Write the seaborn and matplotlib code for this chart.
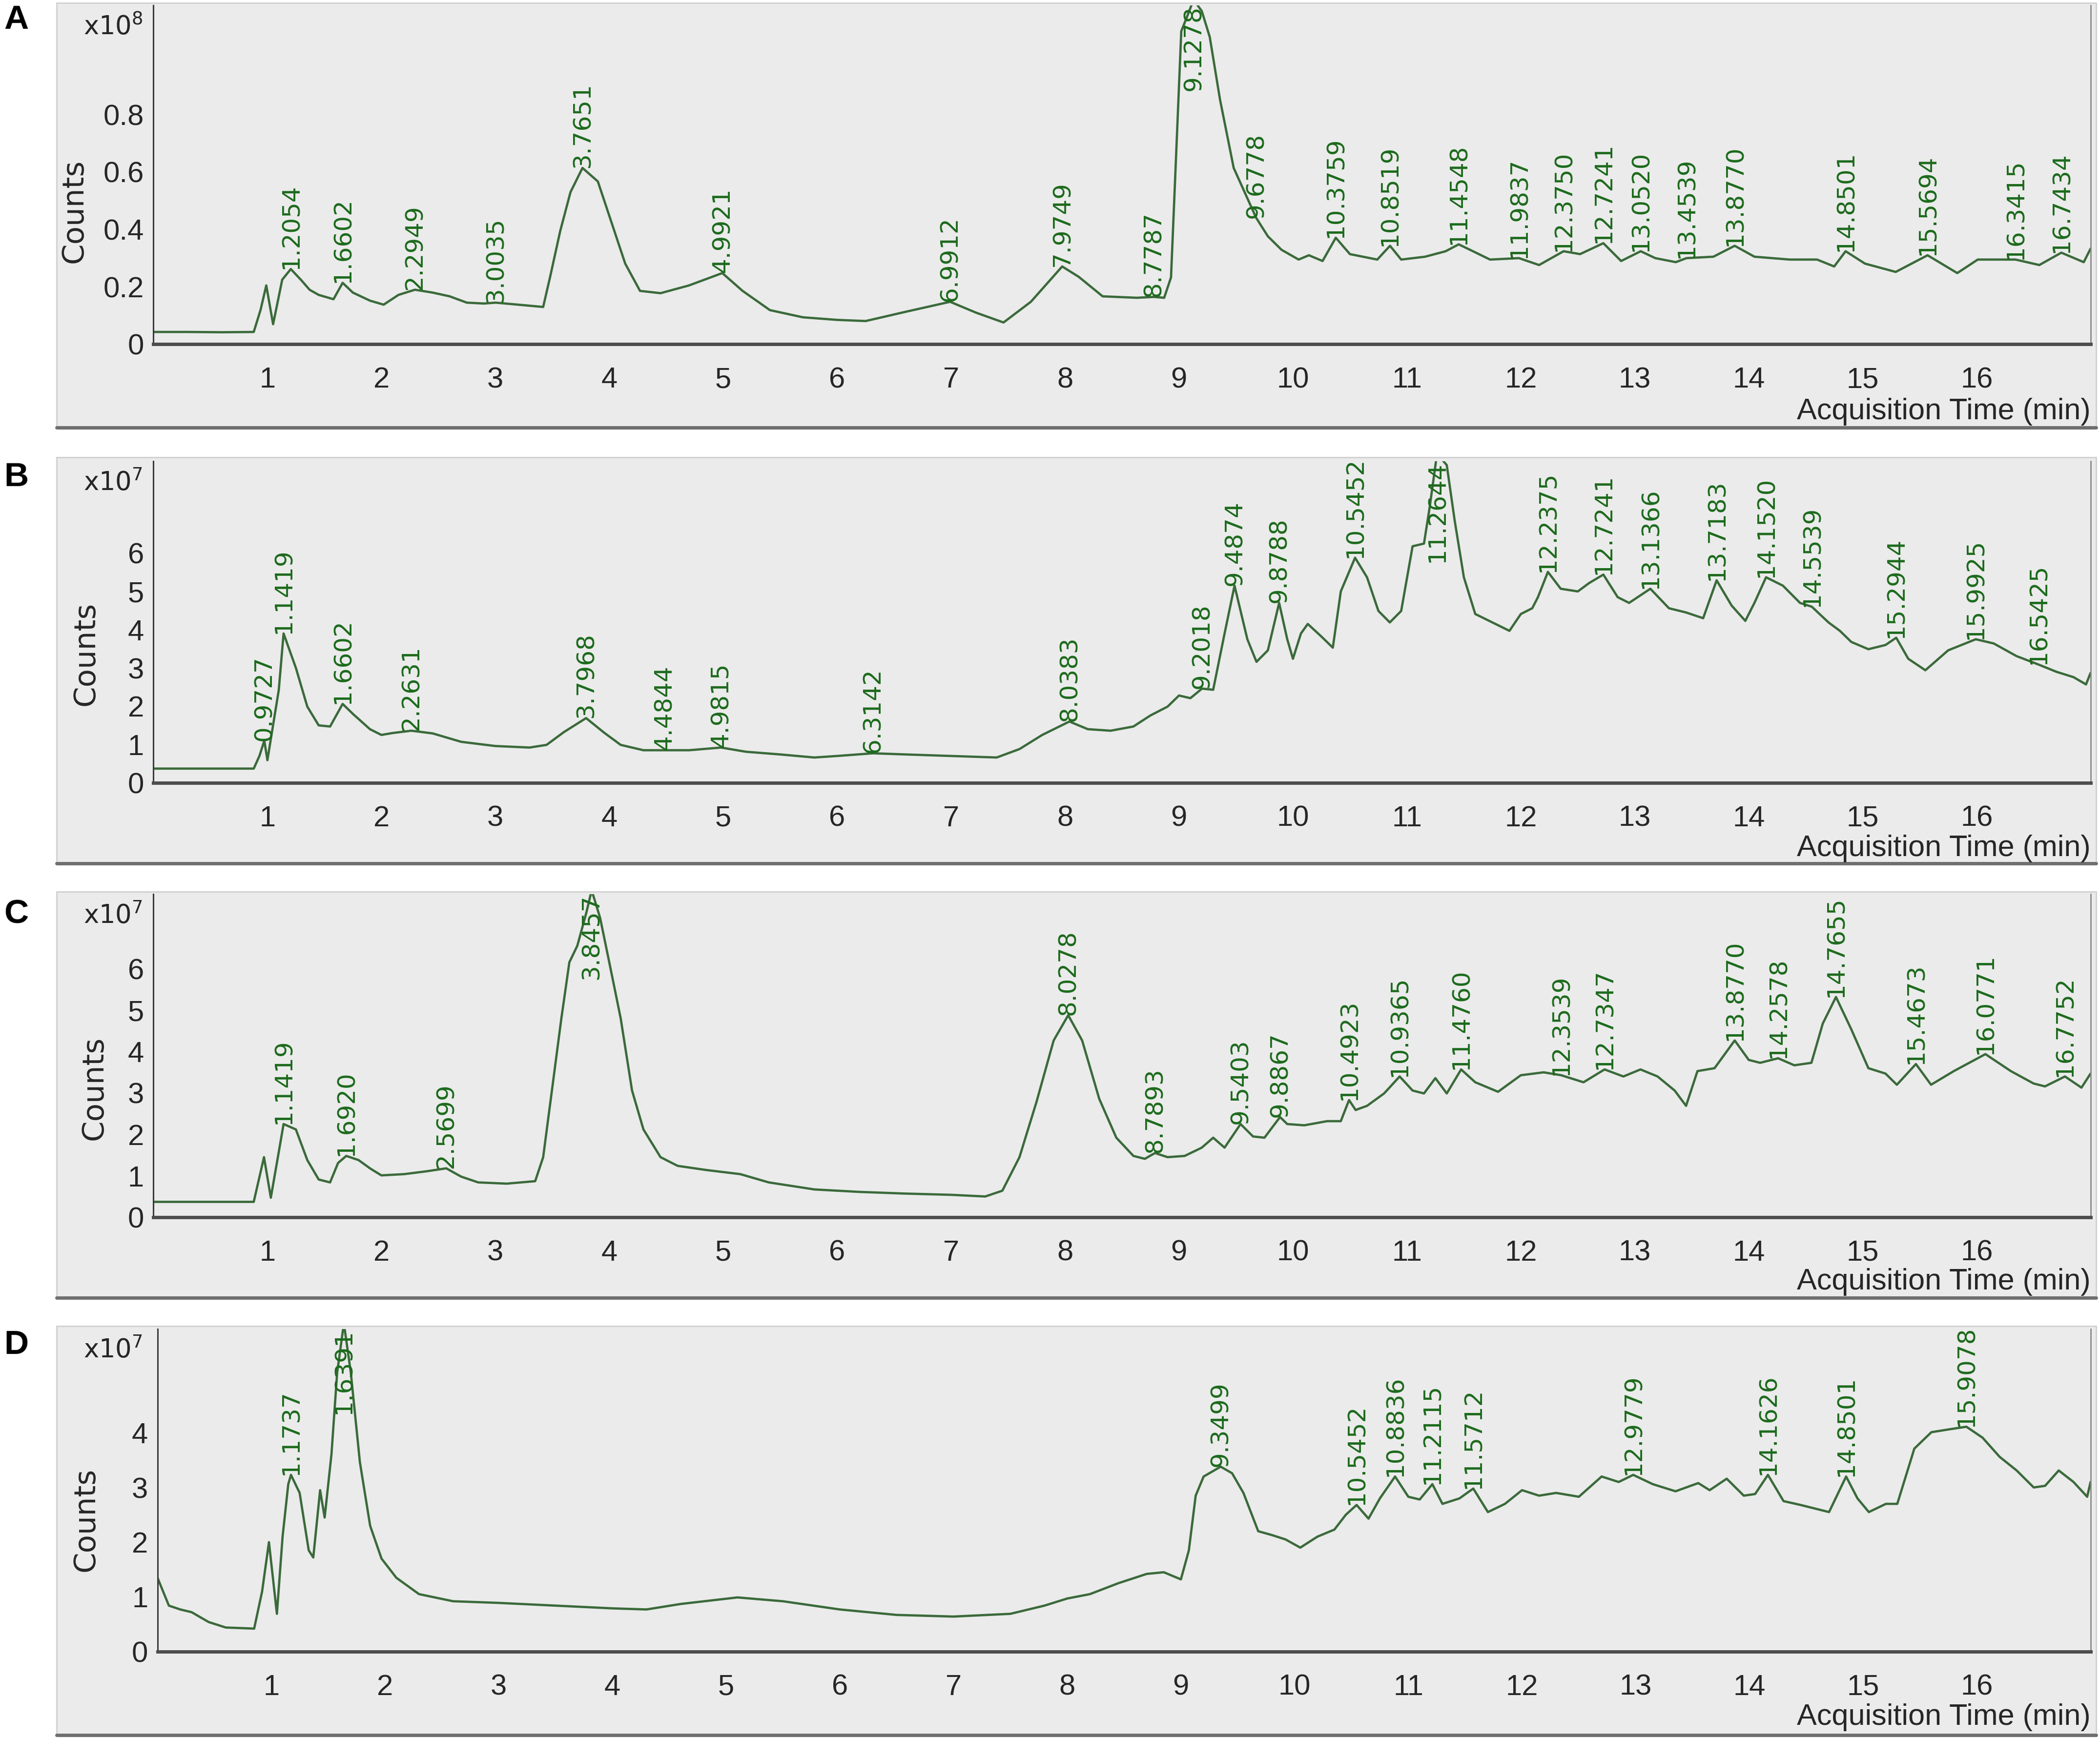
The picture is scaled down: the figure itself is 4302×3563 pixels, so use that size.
import numpy as np
import matplotlib
matplotlib.use('Agg')
import matplotlib.pyplot as plt
import seaborn as sns
from matplotlib.patches import Rectangle
from matplotlib.lines import Line2D

# Traces: (acquisition time in min, counts in x10^n)
a_trace = [(0.0, 0.043), (0.3, 0.043), (0.6, 0.042), (0.88, 0.043), (0.94, 0.12), (0.99, 0.205),
           (1.05, 0.07), (1.13, 0.225), (1.2054, 0.262), (1.3, 0.222), (1.37, 0.19), (1.45, 0.172),
           (1.58, 0.157), (1.6602, 0.214), (1.75, 0.18), (1.9, 0.152), (2.02, 0.138), (2.15, 0.172),
           (2.2949, 0.19), (2.45, 0.18), (2.6, 0.167), (2.75, 0.145), (2.9, 0.142), (3.0035, 0.145),
           (3.2, 0.138), (3.42, 0.13), (3.48, 0.233), (3.57, 0.395), (3.66, 0.53), (3.7651, 0.614),
           (3.9, 0.567), (4.02, 0.424), (4.14, 0.281), (4.27, 0.186), (4.45, 0.178), (4.7, 0.205),
           (4.9921, 0.248), (5.17, 0.186), (5.41, 0.119), (5.7, 0.094), (6.0, 0.085), (6.25, 0.081),
           (6.61, 0.114), (6.9912, 0.148), (7.22, 0.11), (7.46, 0.076), (7.7, 0.148), (7.9749, 0.271),
           (8.12, 0.235), (8.33, 0.167), (8.63, 0.162), (8.7787, 0.165), (8.87, 0.162), (8.93, 0.233),
           (9.02, 1.09), (9.08, 1.15), (9.1278, 1.2), (9.2, 1.16), (9.27, 1.07), (9.36, 0.852),
           (9.48, 0.614), (9.6778, 0.44), (9.78, 0.376), (9.9, 0.329), (10.05, 0.295), (10.14, 0.31),
           (10.26, 0.29), (10.3759, 0.371), (10.5, 0.314), (10.74, 0.295), (10.8519, 0.343),
           (10.95, 0.295), (11.16, 0.305), (11.34, 0.324), (11.4548, 0.348), (11.58, 0.324),
           (11.73, 0.295), (11.9837, 0.3), (12.16, 0.276), (12.375, 0.324), (12.52, 0.314),
           (12.7241, 0.352), (12.88, 0.29), (13.052, 0.324), (13.18, 0.3), (13.36, 0.286),
           (13.4539, 0.3), (13.69, 0.305), (13.877, 0.343), (14.05, 0.305), (14.36, 0.295),
           (14.6, 0.295), (14.75, 0.271), (14.8501, 0.324), (15.02, 0.281), (15.29, 0.252),
           (15.5694, 0.31), (15.83, 0.248), (16.01, 0.295), (16.3415, 0.295), (16.55, 0.276),
           (16.7434, 0.319), (16.94, 0.286), (17.0, 0.333)]
a_peaks = [1.2054, 1.6602, 2.2949, 3.0035, 3.7651, 4.9921, 6.9912, 7.9749, 8.7787, 9.6778,
           10.3759, 10.8519, 11.4548, 11.9837, 12.3750, 12.7241, 13.0520, 13.4539, 13.8770,
           14.8501, 15.5694, 16.3415, 16.7434]
a_top_peak = 9.1278

b_trace = [(0.0, 0.37), (0.4, 0.37), (0.88, 0.37), (0.93, 0.7), (0.9727, 1.1), (1.0, 0.59),
           (1.1, 2.43), (1.1419, 3.9), (1.25, 3.0), (1.35, 1.99), (1.45, 1.5), (1.55, 1.47),
           (1.6602, 2.06), (1.75, 1.8), (1.9, 1.4), (2.0, 1.25), (2.1, 1.3), (2.2631, 1.36),
           (2.45, 1.29), (2.7, 1.07), (3.0, 0.96), (3.3, 0.92), (3.45, 0.99), (3.6, 1.32),
           (3.7968, 1.69), (3.95, 1.32), (4.1, 0.99), (4.3, 0.85), (4.4844, 0.85), (4.7, 0.85),
           (4.9815, 0.92), (5.2, 0.81), (5.5, 0.74), (5.8, 0.66), (6.0, 0.7), (6.3142, 0.77),
           (6.6, 0.74), (7.0, 0.7), (7.4, 0.66), (7.6, 0.88), (7.8, 1.25), (8.0383, 1.6),
           (8.2, 1.4), (8.4, 1.36), (8.6, 1.47), (8.75, 1.76), (8.9, 1.99), (9.0, 2.28), (9.1, 2.21),
           (9.2018, 2.46), (9.3, 2.43), (9.4, 3.9), (9.4874, 5.15), (9.6, 3.75), (9.68, 3.16),
           (9.78, 3.46), (9.8788, 4.7), (9.95, 3.75), (10.0, 3.24), (10.07, 3.9), (10.13, 4.15),
           (10.25, 3.82), (10.35, 3.53), (10.42, 5.0), (10.5452, 5.88), (10.65, 5.37), (10.75, 4.49),
           (10.85, 4.19), (10.95, 4.49), (11.05, 6.18), (11.15, 6.25), (11.2, 7.2), (11.2644, 8.6),
           (11.35, 8.3), (11.42, 6.84), (11.5, 5.37), (11.6, 4.41), (11.75, 4.19), (11.9, 3.97),
           (12.0, 4.41), (12.1, 4.56), (12.15, 4.85), (12.2375, 5.51), (12.35, 5.07), (12.5, 5.0),
           (12.6, 5.22), (12.7241, 5.44), (12.85, 4.85), (12.95, 4.7), (13.1366, 5.07), (13.3, 4.56),
           (13.45, 4.45), (13.6, 4.3), (13.7183, 5.29), (13.85, 4.63), (13.97, 4.23), (14.05, 4.7),
           (14.152, 5.37), (14.3, 5.15), (14.45, 4.7), (14.5539, 4.6), (14.7, 4.19), (14.8, 3.97),
           (14.9, 3.68), (15.05, 3.49), (15.2, 3.6), (15.2944, 3.79), (15.4, 3.24), (15.55, 2.94),
           (15.75, 3.46), (15.9925, 3.75), (16.15, 3.64), (16.35, 3.31), (16.5425, 3.09), (16.7, 2.9),
           (16.85, 2.76), (16.96, 2.57), (17.0, 2.87)]
b_peaks = [0.9727, 1.1419, 1.6602, 2.2631, 3.7968, 4.4844, 4.9815, 6.3142, 8.0383, 9.2018,
           9.4874, 9.8788, 10.5452, 12.2375, 12.7241, 13.1366, 13.7183, 14.1520, 14.5539,
           15.2944, 15.9925, 16.5425]
b_top_peak = 11.2644

c_trace = [(0.0, 0.37), (0.4, 0.37), (0.88, 0.37), (0.97, 1.45), (1.03, 0.47), (1.1, 1.58),
           (1.1419, 2.25), (1.25, 2.12), (1.35, 1.38), (1.45, 0.91), (1.55, 0.84), (1.62, 1.31),
           (1.692, 1.48), (1.8, 1.38), (1.9, 1.18), (2.0, 1.01), (2.2, 1.04), (2.4, 1.11),
           (2.5699, 1.18), (2.7, 0.98), (2.85, 0.84), (3.1, 0.81), (3.35, 0.87), (3.42, 1.45),
           (3.5, 3.13), (3.58, 4.81), (3.65, 6.16), (3.72, 6.56), (3.8, 7.37), (3.8457, 7.9),
           (3.92, 7.23), (4.0, 6.16), (4.1, 4.81), (4.2, 3.06), (4.3, 2.12), (4.45, 1.45), (4.6, 1.24),
           (4.85, 1.14), (5.15, 1.04), (5.4, 0.84), (5.8, 0.67), (6.2, 0.61), (6.6, 0.57), (7.0, 0.54),
           (7.3, 0.5), (7.45, 0.64), (7.6, 1.45), (7.75, 2.79), (7.9, 4.27), (8.0278, 4.88),
           (8.15, 4.27), (8.3, 2.86), (8.45, 1.92), (8.6, 1.48), (8.7, 1.41), (8.7893, 1.55),
           (8.9, 1.45), (9.05, 1.48), (9.2, 1.68), (9.3, 1.92), (9.4, 1.68), (9.5403, 2.25),
           (9.65, 1.95), (9.75, 1.92), (9.8867, 2.42), (9.95, 2.25), (10.1, 2.22), (10.3, 2.32),
           (10.42, 2.32), (10.4923, 2.83), (10.55, 2.59), (10.65, 2.69), (10.8, 2.99), (10.9365, 3.4),
           (11.05, 3.06), (11.15, 2.99), (11.25, 3.36), (11.35, 2.99), (11.476, 3.57), (11.6, 3.26),
           (11.8, 3.03), (12.0, 3.43), (12.2, 3.5), (12.3539, 3.43), (12.55, 3.26), (12.7347, 3.57),
           (12.9, 3.4), (13.05, 3.57), (13.2, 3.4), (13.35, 3.06), (13.45, 2.69), (13.55, 3.53),
           (13.7, 3.6), (13.877, 4.27), (14.0, 3.8), (14.1, 3.73), (14.2578, 3.84), (14.4, 3.67),
           (14.55, 3.73), (14.65, 4.68), (14.7655, 5.32), (14.9, 4.54), (15.05, 3.6), (15.2, 3.47),
           (15.3, 3.2), (15.4673, 3.7), (15.6, 3.2), (15.8, 3.53), (16.0771, 3.94), (16.3, 3.53),
           (16.5, 3.23), (16.6, 3.16), (16.7752, 3.4), (16.92, 3.13), (17.0, 3.47)]
c_peaks = [1.1419, 1.6920, 2.5699, 8.0278, 8.7893, 9.5403, 9.8867, 10.4923, 10.9365, 11.4760,
           12.3539, 12.7347, 13.8770, 14.2578, 14.7655, 15.4673, 16.0771, 16.7752]
c_top_peak = 3.8457

d_trace = [(0.0, 1.35), (0.1, 0.84), (0.2, 0.77), (0.3, 0.72), (0.45, 0.54), (0.6, 0.44),
           (0.85, 0.42), (0.92, 1.1), (0.98, 2.0), (1.05, 0.69), (1.1, 2.1), (1.15, 3.06),
           (1.1737, 3.23), (1.25, 2.9), (1.33, 1.85), (1.37, 1.72), (1.43, 2.95), (1.47, 2.45),
           (1.53, 3.61), (1.58, 5.1), (1.6391, 6.0), (1.7, 5.1), (1.78, 3.46), (1.87, 2.3),
           (1.97, 1.7), (2.1, 1.35), (2.3, 1.05), (2.6, 0.92), (3.0, 0.89), (3.5, 0.84), (4.0, 0.79),
           (4.3, 0.77), (4.6, 0.87), (5.1, 0.99), (5.5, 0.92), (6.0, 0.77), (6.5, 0.67), (7.0, 0.64),
           (7.5, 0.69), (7.8, 0.84), (8.0, 0.97), (8.2, 1.05), (8.45, 1.25), (8.7, 1.42), (8.85, 1.45),
           (9.0, 1.32), (9.07, 1.85), (9.13, 2.85), (9.2, 3.2), (9.3499, 3.38), (9.45, 3.26),
           (9.55, 2.9), (9.68, 2.2), (9.8, 2.13), (9.92, 2.05), (10.05, 1.9), (10.2, 2.1),
           (10.35, 2.23), (10.45, 2.5), (10.5452, 2.68), (10.65, 2.43), (10.75, 2.8), (10.8836, 3.2),
           (11.0, 2.83), (11.1, 2.78), (11.2115, 3.06), (11.3, 2.7), (11.45, 2.8), (11.5712, 2.98),
           (11.7, 2.55), (11.85, 2.7), (12.0, 2.95), (12.15, 2.85), (12.3, 2.9), (12.5, 2.83),
           (12.7, 3.2), (12.85, 3.1), (12.9779, 3.23), (13.15, 3.06), (13.35, 2.93), (13.55, 3.08),
           (13.65, 2.95), (13.8, 3.16), (13.95, 2.85), (14.05, 2.88), (14.1626, 3.23), (14.3, 2.75),
           (14.45, 2.68), (14.7, 2.55), (14.8501, 3.2), (14.95, 2.8), (15.05, 2.55), (15.2, 2.7),
           (15.3, 2.7), (15.45, 3.71), (15.6, 4.01), (15.75, 4.06), (15.9078, 4.11), (16.05, 3.91),
           (16.2, 3.56), (16.35, 3.31), (16.5, 3.0), (16.6, 3.03), (16.72, 3.31), (16.85, 3.1),
           (16.97, 2.83), (17.0, 3.1)]
d_peaks = [1.1737, 9.3499, 10.5452, 10.8836, 11.2115, 11.5712, 12.9779, 14.1626, 14.8501, 15.9078]
d_top_peak = 1.6391

x_ticks = list(range(1, 18))
x_tick_labels = [str(i) for i in range(1, 17)] + ['']

sns.set_theme(style='white')
plt.rcParams['font.family'] = ['DejaVu Sans']
narrow = ['Liberation Sans Narrow', 'Liberation Sans', 'DejaVu Sans']

LINE = '#3b6a3b'
PEAK = '#1c6a1c'
BG = '#ebebeb'
INK = '#262626'

# layout measured on a 1560 x 1293 view of the figure
DW, DH = 1560.0, 1293.0
def fx(x):
    return x / DW
def fy(y):
    return 1 - y / DH

panels = [
    dict(letter='A', trace=a_trace, peaks=a_peaks, top=a_top_peak, ymax=1.18,
         yticks=[0, 0.2, 0.4, 0.6, 0.8, 1.0], ylabels=['0', '0.2', '0.4', '0.6', '0.8', ''],
         exp=8, box=(2, 318), ax=(114, 4, 256), counts=(55, 157), acq=306, let=15),
    dict(letter='B', trace=b_trace, peaks=b_peaks, top=b_top_peak, ymax=8.4,
         yticks=list(range(8)), ylabels=[str(i) for i in range(7)] + [''],
         exp=7, box=(340, 642), ax=(114, 343, 582), counts=(64, 486), acq=631, let=355),
    dict(letter='C', trace=c_trace, peaks=c_peaks, top=c_top_peak, ymax=7.8,
         yticks=list(range(8)), ylabels=[str(i) for i in range(7)] + [''],
         exp=7, box=(663, 965), ax=(114, 665, 905), counts=(70, 809), acq=953, let=680),
    dict(letter='D', trace=d_trace, peaks=d_peaks, top=d_top_peak, ymax=5.9,
         yticks=list(range(6)), ylabels=[str(i) for i in range(5)] + [''],
         exp=7, box=(986, 1290), ax=(117, 988, 1228), counts=(64, 1130), acq=1277, let=1000),
]

fig = plt.figure(figsize=(43.02, 35.63), dpi=100, facecolor='white')

for p in panels:
    btop, bbot = p['box']
    fig.patches.append(Rectangle((fx(42), fy(bbot)), fx(1557) - fx(42), fy(btop) - fy(bbot),
                                 transform=fig.transFigure, facecolor=BG, edgecolor='#cfcfcf',
                                 lw=2, zorder=-5))
    fig.lines.append(Line2D([fx(42), fx(1557)], [fy(bbot), fy(bbot)], transform=fig.transFigure,
                            color='#6f6f6f', lw=5, zorder=-4))

    left, top, bottom = p['ax']
    ax = fig.add_axes([fx(left), fy(bottom), fx(1553) - fx(left), fy(top) - fy(bottom)])
    ax.set_zorder(2)
    ax.set_facecolor(BG)

    t = [pt[0] for pt in p['trace']]
    v = [pt[1] for pt in p['trace']]
    sns.lineplot(x=t, y=v, ax=ax, color=LINE, linewidth=3.4, estimator=None, sort=False)

    ax.set_xlim(0, 17)
    ax.set_ylim(0, p['ymax'])

    for pk in p['peaks']:
        ax.text(pk, np.interp(pk, t, v), f'{pk:.4f}', rotation=90, ha='center', va='bottom',
                color=PEAK, fontsize=36, clip_on=True)
    ax.text(p['top'], p['ymax'], f"{p['top']:.4f}", rotation=90, ha='center', va='top',
            color=PEAK, fontsize=36, clip_on=True)

    ax.set_xticks(x_ticks)
    ax.set_xticklabels(x_tick_labels, fontfamily=narrow, fontsize=43, color=INK)
    ax.set_yticks(p['yticks'])
    ax.set_yticklabels(p['ylabels'], fontfamily=narrow, fontsize=43, color=INK)
    ax.tick_params(axis='x', direction='out', length=17, width=2.2, pad=16, colors='#333333')
    ax.tick_params(axis='y', direction='out', length=11, width=2.2, pad=3, colors='#333333')
    for lbl in ax.get_xticklabels() + ax.get_yticklabels():
        lbl.set_color(INK)

    ax.spines['top'].set_visible(False)
    ax.spines['left'].set_color('#3a3a3a')
    ax.spines['left'].set_linewidth(2.2)
    ax.spines['bottom'].set_color('#4d4d4d')
    ax.spines['bottom'].set_linewidth(5)
    ax.spines['right'].set_color('#8a8a8a')
    ax.spines['right'].set_linewidth(2)
    ax.set_xlabel('')
    ax.set_ylabel('')

    fig.text(fx(106), fy(top + 16), f"x10$^{{{p['exp']}}}$", ha='right', va='center',
             fontsize=38, color=INK)
    cx, cy = p['counts']
    fig.text(fx(cx), fy(cy), 'Counts', rotation=90, ha='center', va='center',
             fontsize=44, color=INK)
    fig.text(fx(1553), fy(p['acq']), 'Acquisition Time (min)', ha='right', va='center',
             fontsize=44, color=INK, fontfamily=narrow)
    fig.text(fx(3), fy(p['let']), p['letter'], ha='left', va='center', fontsize=50,
             fontweight='bold', color='black', fontfamily=narrow)

fig.savefig('out.png', dpi=100, facecolor='white')
